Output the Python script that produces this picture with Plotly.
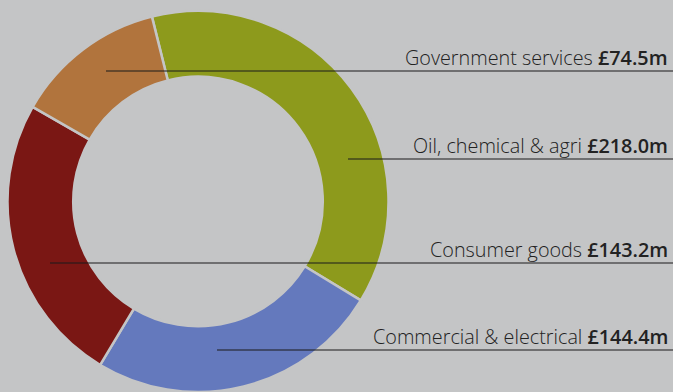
import plotly.graph_objects as go

categories = ["Oil, chemical & agri", "Commercial & electrical", "Consumer goods", "Government services"]
values = [218.0, 144.4, 143.2, 74.5]
value_labels = ["£218.0m", "£144.4m", "£143.2m", "£74.5m"]
colors = ["#8d9a1c", "#6479bd", "#7a1714", "#b1743d"]

# label leader lines: (y pixel from top, x start pixel)
label_y = [159, 350, 263, 71]
label_x0 = [348, 217, 50, 106]

W, H = 673, 392
BG = "#c4c5c6"

fig = go.Figure(go.Pie(
    labels=categories,
    values=values,
    sort=False,
    direction="clockwise",
    rotation=-14,
    hole=0.655,
    marker=dict(colors=colors, line=dict(color=BG, width=2.5)),
    textinfo="none",
    hoverinfo="label+value",
    domain=dict(x=[7.5 / W, 388.5 / W], y=[0, 1 - 11 / H]),
    showlegend=False,
))

shapes = []
annotations = []
for cat, lab, y, x0 in zip(categories, value_labels, label_y, label_x0):
    yp = 1 - y / H
    shapes.append(dict(type="line", xref="paper", yref="paper",
                       x0=x0 / W, x1=1.0, y0=yp, y1=yp,
                       line=dict(color="#1a1a1a", width=1.2)))
    annotations.append(dict(xref="paper", yref="paper", x=670 / W, y=yp,
                            xanchor="right", yanchor="bottom", yshift=-2,
                            showarrow=False,
                            text=f"{cat} <span style='font-weight:600'>{lab}</span>",
                            font=dict(family="Open Sans", size=19.8, color="#222222", weight=300)))

fig.update_layout(
    width=W, height=H,
    margin=dict(l=0, r=0, t=0, b=0),
    paper_bgcolor=BG, plot_bgcolor=BG,
    shapes=shapes, annotations=annotations,
)

fig.write_html("out.html")
